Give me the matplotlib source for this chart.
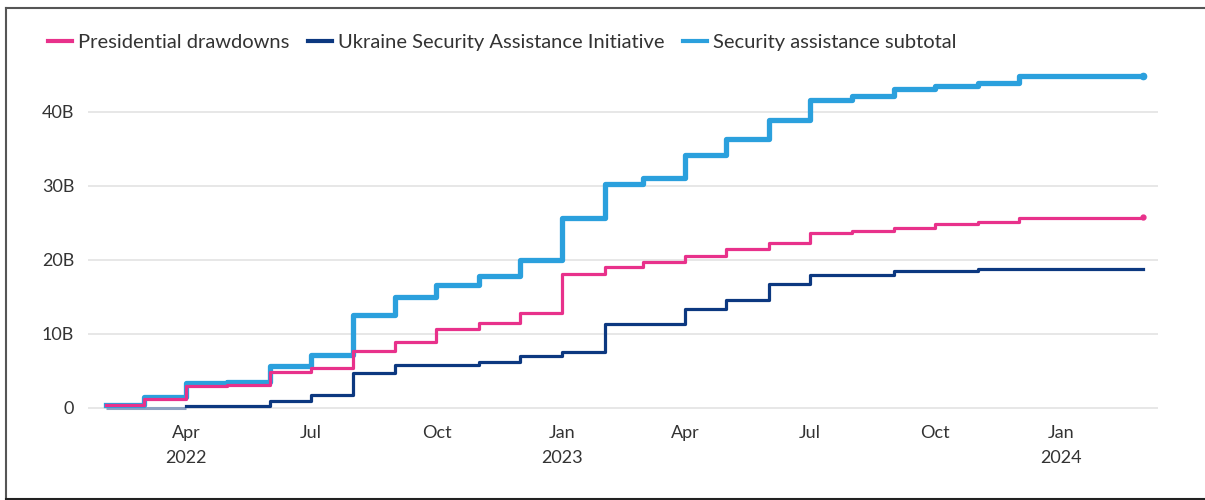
import matplotlib
matplotlib.use("Agg")
import matplotlib.pyplot as plt
import matplotlib.dates as mdates
from matplotlib.lines import Line2D
import numpy as np
import pandas as pd

plt.rcParams['font.family'] = ['Lato', 'DejaVu Sans']

# ---- data (billions USD, cumulative, monthly) ----
months = pd.date_range("2022-02-01", "2024-03-01", freq="MS")
presidential_drawdowns = [0.35, 1.2, 2.9, 3.05, 4.8, 5.4, 7.7, 8.9, 10.6, 11.45, 12.75,
                          18.1, 19.0, 19.7, 20.5, 21.5, 22.3, 23.6, 23.9, 24.3, 24.8, 25.1,
                          25.7, 25.7, 25.7, 25.8]
usai = [np.nan, np.nan, 0.15, 0.15, 0.85, 1.7, 4.7, 5.7, 5.8, 6.2, 7.0,
        7.55, 11.3, 11.3, 13.4, 14.5, 16.7, 17.9, 17.9, 18.5, 18.5, 18.8,
        18.8, 18.8, 18.8, 18.8]
subtotal = [0.35, 1.5, 3.3, 3.5, 5.6, 7.1, 12.5, 14.9, 16.6, 17.8, 20.0,
            25.7, 30.3, 31.0, 34.2, 36.3, 38.9, 41.6, 42.1, 43.1, 43.5, 43.95,
            44.8, 44.8, 44.8, 44.9]
series_names = ["Presidential drawdowns", "Ukraine Security Assistance Initiative",
                "Security assistance subtotal"]
y_ticks = [0, 10, 20, 30, 40]
y_labels = ["0", "10B", "20B", "30B", "40B"]
x_tick_dates = pd.to_datetime(["2022-04-01", "2022-07-01", "2022-10-01", "2023-01-01",
                               "2023-04-01", "2023-07-01", "2023-10-01", "2024-01-01"])
x_tick_labels = ["Apr\n2022", "Jul", "Oct", "Jan\n2023", "Apr", "Jul", "Oct", "Jan\n2024"]

PINK = "#e8318b"
NAVY = "#0c3880"
LIGHT = "#2ba0dd"

fig = plt.figure(figsize=(12.05, 5.0), dpi=100)
ax = fig.add_axes([0.073, 0.170, 0.888, 0.695])

usai_arr = np.array(usai, dtype=float)
missing = np.isnan(usai_arr)
# baseline segment where USAI has no value yet
miss_idx = np.where(missing)[0]
if len(miss_idx):
    seg_dates = list(months[miss_idx]) + [months[miss_idx[-1] + 1]]
    ax.plot(seg_dates, [0] * len(seg_dates), color="#8ea2c2", lw=2.2, zorder=2,
            solid_capstyle="butt")

ax.step(months, subtotal, where="post", color=LIGHT, lw=3.8, zorder=3,
        label=series_names[2])
ax.step(months, usai_arr, where="post", color=NAVY, lw=2.3, zorder=4,
        label=series_names[1])
ax.step(months, presidential_drawdowns, where="post", color=PINK, lw=2.3, zorder=5,
        label=series_names[0])
ax.plot(months[-1:], subtotal[-1:], 'o', color=LIGHT, ms=4.5, zorder=3)
ax.plot(months[-1:], presidential_drawdowns[-1:], 'o', color=PINK, ms=3.5, zorder=5)

ax.set_xlim(pd.Timestamp("2022-01-19"), pd.Timestamp("2024-03-12"))
ax.set_ylim(-1, 46)
ax.set_yticks(y_ticks)
ax.set_yticklabels(y_labels)
ax.set_xticks(x_tick_dates)
ax.set_xticklabels(x_tick_labels, linespacing=1.75, va="top")
ax.tick_params(axis="both", length=0, labelsize=13, colors="#333333")
ax.tick_params(axis="x", pad=7)
ax.tick_params(axis="y", pad=10)
ax.grid(axis="y", color="#e3e3e3", lw=1.2)
ax.set_axisbelow(True)
for s in ax.spines.values():
    s.set_visible(False)

handles = [Line2D([0], [0], color=PINK, lw=3),
           Line2D([0], [0], color=NAVY, lw=3),
           Line2D([0], [0], color=LIGHT, lw=3)]
leg = fig.legend(handles, series_names, loc="center left",
                 bbox_to_anchor=(0.025, 0.915), ncol=3, frameon=False,
                 fontsize=14.5, handlelength=1.2, handletextpad=0.3,
                 columnspacing=0.9, labelcolor="#333333")

# frame lines around the image
fig.add_artist(Line2D([0.005, 1.0], [0.985, 0.985], color="#555555", lw=1.5,
                      transform=fig.transFigure))
fig.add_artist(Line2D([0.005, 0.005], [0.985, 0.003], color="#555555", lw=1.5,
                      transform=fig.transFigure))
fig.add_artist(Line2D([0.005, 1.0], [0.003, 0.003], color="#222222", lw=1.5,
                      transform=fig.transFigure))

fig.savefig("out.png", dpi=100)
